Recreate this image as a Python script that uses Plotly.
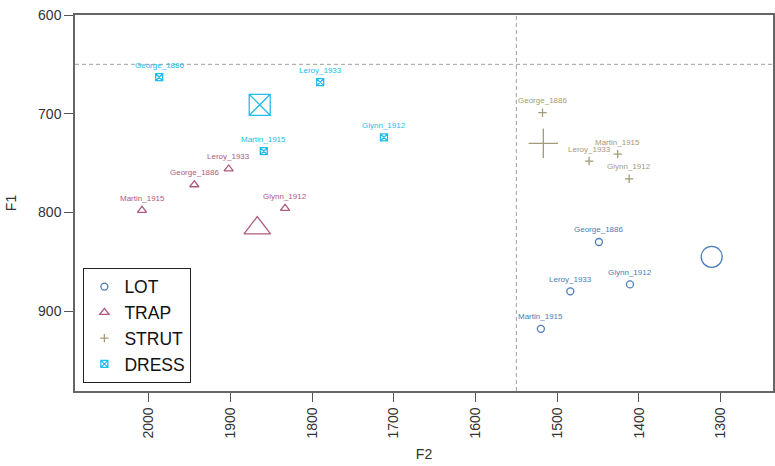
import plotly.graph_objects as go

speakers = ["George_1886", "Leroy_1933", "Martin_1915", "Glynn_1912"]

lot_f2 = [1449, 1484, 1520, 1411]
lot_f1 = [830, 880, 918, 873]
lot_mean = (1311, 845)

trap_f2 = [1944, 1902, 2008, 1833]
trap_f1 = [772, 756, 798, 796]
trap_mean = (1867, 816)

strut_f2 = [1518, 1461, 1426, 1412]
strut_f1 = [699, 748, 741, 766]
strut_mean = (1517, 730)

dress_f2 = [1987, 1790, 1859, 1712]
dress_f1 = [663, 668, 738, 724]
dress_mean = (1864, 691)

series = [
    ("LOT", lot_f2, lot_f1, lot_mean, "#4A7DB8", "circle-open", 7, 21),
    ("TRAP", trap_f2, trap_f1, trap_mean, "#AD5A80", "triangle-up-open", 8, 23),
    ("STRUT", strut_f2, strut_f1, strut_mean, "#A39B78", "cross-thin-open", 6, 21),
    ("DRESS", dress_f2, dress_f1, dress_mean, "#22BBF0", "square-x-open", 7, 21),
]

fig = go.Figure()
annotations = []
for name, xs, ys, mean, col, sym, s_small, s_big in series:
    fig.add_trace(go.Scatter(
        x=xs, y=ys, mode="markers", name=name,
        marker=dict(symbol=sym, size=s_small, color=col, line=dict(color=col, width=1.3)),
    ))
    fig.add_trace(go.Scatter(
        x=[mean[0]], y=[mean[1]], mode="markers", showlegend=False,
        marker=dict(symbol=sym, size=s_big, color=col, line=dict(color=col, width=1.3)),
    ))
    for sp, xv, yv in zip(speakers, xs, ys):
        annotations.append(dict(
            x=xv, y=yv, xref="x", yref="y", text=sp, showarrow=False,
            yshift=12, font=dict(size=8, color=col, family="Liberation Sans, Arial, sans-serif"),
        ))

fig.add_shape(type="line", xref="x", yref="paper", x0=1550, x1=1550, y0=0, y1=1,
              line=dict(color="#A0A0A0", width=1, dash="4px,3px"))
fig.add_shape(type="line", xref="paper", yref="y", x0=0, x1=1, y0=650, y1=650,
              line=dict(color="#A0A0A0", width=1, dash="4px,3px"))

fig.update_layout(
    width=775, height=466,
    margin=dict(l=75, r=2, t=15, b=75),
    plot_bgcolor="white", paper_bgcolor="white",
    font=dict(family="Liberation Sans, Arial, sans-serif", color="#333333"),
    annotations=annotations,
    showlegend=True,
    legend=dict(
        x=0.012, y=0.022, xanchor="left", yanchor="bottom",
        bordercolor="#222222", borderwidth=1, bgcolor="white",
        font=dict(size=17.5, color="#111111"),
        itemsizing="trace", tracegroupgap=0,
    ),
    xaxis=dict(
        title=dict(text="F2", font=dict(size=14), standoff=12),
        range=[2090, 1236], tickvals=[2000, 1900, 1800, 1700, 1600, 1500, 1400, 1300],
        tickangle=-90, tickfont=dict(size=14),
        ticks="outside", ticklen=9, tickcolor="#555555",
        showgrid=False, zeroline=False, automargin=False,
        showline=True, linecolor="#666666", linewidth=1.5, mirror=True,
    ),
    yaxis=dict(
        title=dict(text="F1", font=dict(size=14), standoff=18),
        range=[981, 600], tickvals=[600, 700, 800, 900],
        tickfont=dict(size=14),
        ticks="outside", ticklen=9, tickcolor="#555555",
        showgrid=False, zeroline=False, automargin=False,
        showline=True, linecolor="#666666", linewidth=1.5, mirror=True,
    ),
)

fig.write_html("out.html", config={"displayModeBar": False},
               post_script="document.body.style.margin='0px';")
